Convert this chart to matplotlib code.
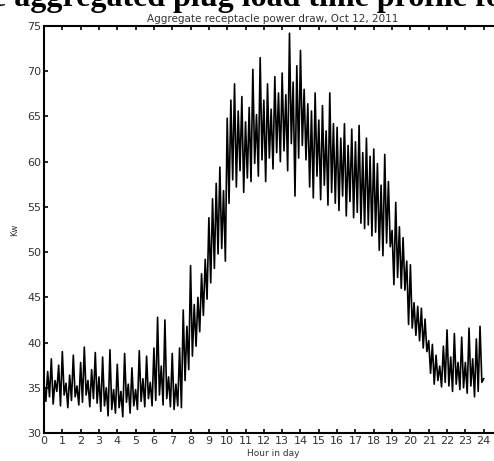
import matplotlib
matplotlib.use("Agg")
import matplotlib.pyplot as plt
import numpy as np

# Hour-of-day sample times (0.1 h step) and receptacle power (kW)
hours = [round(i * 0.1, 1) for i in range(241)]
kw = [
    35.5, 33.5, 36.8, 34.0, 38.2, 33.2, 35.8, 34.6, 37.5, 33.0,
    39.0, 34.2, 35.5, 32.8, 36.4, 33.6, 38.6, 34.0, 35.2, 33.1,
    37.8, 33.4, 39.5, 34.2, 35.8, 32.9, 37.0, 33.8, 38.9, 33.3,
    36.2, 32.4, 38.4, 33.0, 35.0, 31.9, 39.2, 32.6, 34.8, 32.2,
    37.6, 32.8, 34.6, 31.8, 38.8, 33.4, 35.4, 32.2, 37.2, 33.0,
    34.8, 32.6, 39.1, 33.5, 36.0, 32.9, 38.5, 33.8, 35.6, 33.0,
    39.4, 33.6, 42.8, 34.2, 37.4, 33.1, 42.5, 33.8, 36.2, 32.9,
    38.8, 32.6, 35.4, 33.0, 39.4, 32.8, 43.6, 35.8, 41.8, 37.0,
    48.5, 38.5, 44.2, 39.6, 45.0, 41.2, 47.6, 43.0, 49.2, 44.8,
    53.8, 46.6, 55.9, 48.2, 57.6, 49.8, 59.4, 50.4, 56.8, 49.0,
    64.8, 55.4, 66.8, 58.0, 68.6, 57.2, 65.6, 59.0, 67.2, 56.6,
    64.4, 58.2, 66.0, 57.8, 70.2, 59.8, 65.2, 58.4, 71.5, 60.2,
    66.8, 57.8, 68.6, 60.4, 65.8, 59.2, 69.4, 61.0, 67.6, 60.0,
    69.8, 61.2, 67.4, 59.0, 74.2, 62.0, 68.8, 56.2, 70.6, 60.4,
    72.3, 61.8, 68.0, 60.2, 66.4, 57.2, 65.6, 56.0, 67.6, 58.4,
    64.6, 55.8, 66.2, 57.4, 63.4, 55.2, 67.6, 56.6, 64.2, 55.4,
    63.8, 54.6, 62.6, 56.2, 64.2, 54.0, 61.8, 55.6, 63.6, 53.8,
    62.2, 54.4, 64.0, 53.2, 61.0, 52.6, 62.6, 53.0, 60.6, 51.8,
    61.4, 52.2, 59.8, 50.2, 57.4, 49.6, 60.8, 51.0, 57.8, 50.6,
    52.4, 46.4, 55.5, 47.2, 52.8, 46.0, 51.6, 45.8, 49.0, 42.0,
    48.6, 41.6, 44.4, 40.8, 44.0, 40.2, 43.8, 39.4, 42.6, 39.0,
    40.2, 36.6, 39.8, 35.4, 38.6, 35.8, 37.4, 35.1, 39.6, 35.6,
    41.4, 35.2, 38.4, 34.6, 41.0, 35.4, 37.8, 34.8, 40.6, 35.0,
    37.8, 34.4, 41.6, 35.2, 38.2, 34.0, 40.4, 34.6, 41.8, 35.6,
    36.0,
]
x_ticks = list(range(0, 25))
y_ticks = [30, 35, 40, 45, 50, 55, 60, 65, 70, 75]

W, H = 494, 461
fig = plt.figure(figsize=(W / 100, H / 100), dpi=100)
ax = fig.add_axes([44 / W, (H - 433) / H, (502 - 44) / W, (433 - 26) / H])

ax.plot(hours, kw, color="black", linewidth=1.2)
ax.set_xlim(0, 25)
ax.set_ylim(30, 75)
ax.set_xticks(x_ticks)
ax.set_yticks(y_ticks)
ax.tick_params(direction="in", length=3, width=1.2, top=True, right=True,
               labelsize=8, labelcolor="#333333", pad=2)
for s in ax.spines.values():
    s.set_linewidth(1.5)

ax.set_ylabel("Kw", fontsize=6, color="#333333", labelpad=6)
ax.set_xlabel("Hour in day", fontsize=6.5, color="#333333", labelpad=2)
ax.set_title("Aggregate receptacle power draw, Oct 12, 2011", fontsize=7.5,
             color="#333333", pad=3)

fig.text(-8 / W, 1 - 6 / H, "e aggregated plug load time profile for",
         fontsize=23, fontweight="bold", family="Liberation Serif",
         ha="left", va="baseline", color="black")

fig.savefig("out.png", dpi=100)
